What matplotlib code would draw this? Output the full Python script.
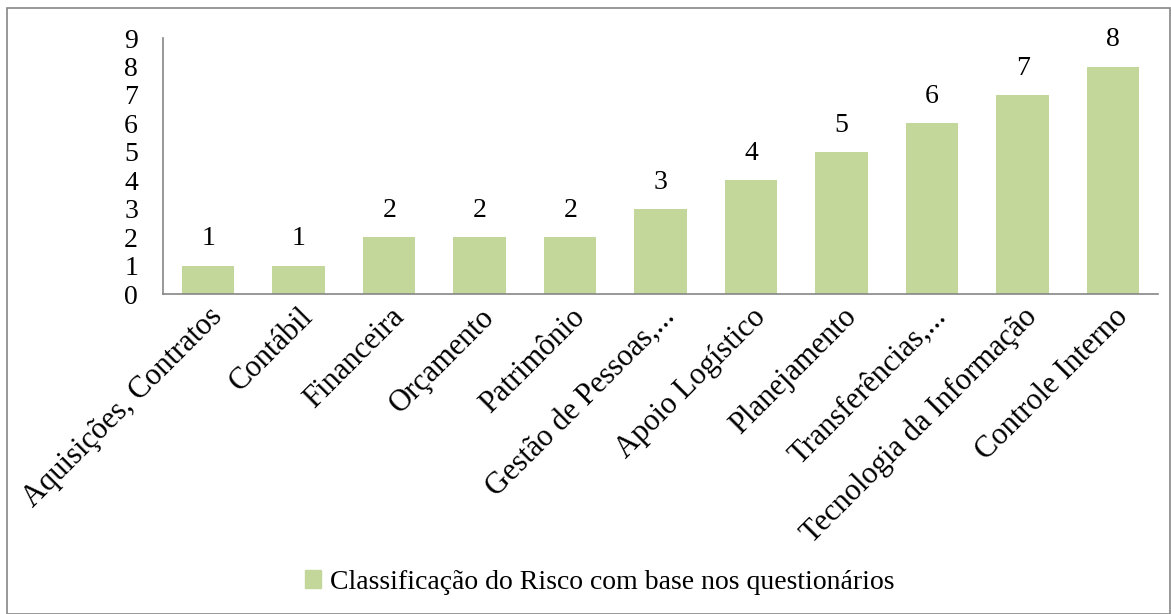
import matplotlib.pyplot as plt
from matplotlib.patches import Rectangle, Patch

categories = ['Aquisições, Contratos', 'Contábil', 'Financeira', 'Orçamento', 'Patrimônio',
              'Gestão de Pessoas,...', 'Apoio Logístico', 'Planejamento', 'Transferências,...',
              'Tecnologia da Informação', 'Controle Interno']
values = [1, 1, 2, 2, 2, 3, 4, 5, 6, 7, 8]
series_name = 'Classificação do Risco com base nos questionários'

plt.rcParams['font.family'] = ['Liberation Serif', 'DejaVu Serif']
bar_color = '#C4D79B'
line_color = '#868686'

fig = plt.figure(figsize=(11.71, 6.14), dpi=100)
ax = fig.add_axes([0.1392, 0.521, 0.850, 0.417])

x = range(len(categories))
bars = ax.bar(x, values, width=0.58, color=bar_color)
for xi, v in zip(x, values):
    ax.text(xi, v + 0.5, str(v), ha='center', va='bottom', fontsize=20)

ax.set_xlim(-0.5, len(categories) - 0.5)
ax.set_ylim(0, 9)
ax.set_yticks(range(10))
ax.tick_params(axis='y', length=0, pad=18, labelsize=20)
ax.tick_params(axis='x', length=0, pad=6, labelsize=22)
ax.set_xticks(list(x))
ax.set_xticklabels(categories, rotation=45, ha='right', rotation_mode='anchor')
for s in ['top', 'right']:
    ax.spines[s].set_visible(False)
for s in ['left', 'bottom']:
    ax.spines[s].set_color(line_color)
    ax.spines[s].set_linewidth(1.2)

fig.legend(handles=[Patch(color=bar_color, label=series_name)], loc='center',
           bbox_to_anchor=(0.512, 0.052), frameon=False, fontsize=20,
           handlelength=0.6, handleheight=0.6, handletextpad=0.3)

fig.patches.append(Rectangle((7 / 1171, 0), 1163 / 1171, 606 / 614, transform=fig.transFigure,
                             fill=False, edgecolor=line_color, linewidth=1.2))

fig.savefig('out.png', dpi=100)
